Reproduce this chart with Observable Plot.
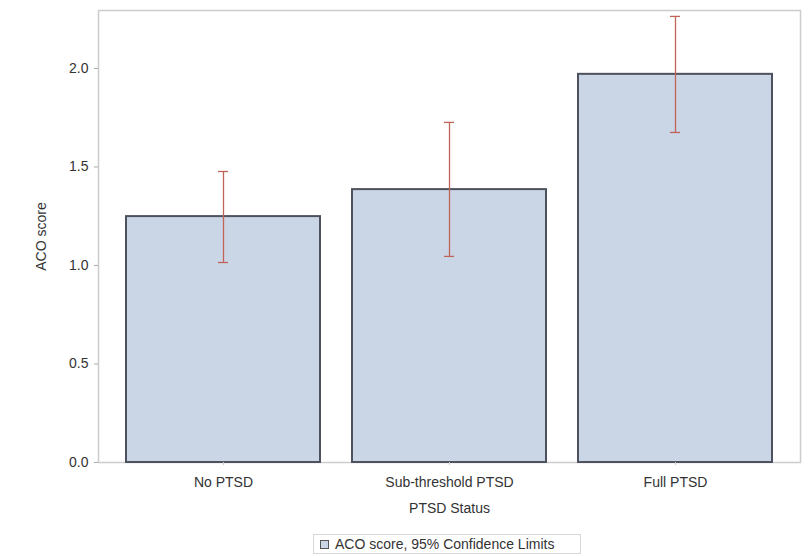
<!DOCTYPE html>
<html>
<head>
<meta charset="utf-8">
<script src="https://cdn.jsdelivr.net/npm/d3@7"></script>
<script src="https://cdn.jsdelivr.net/npm/@observablehq/plot@0.6"></script>
<style>
  html, body { margin: 0; padding: 0; background: #fff; }
  body { width: 811px; height: 556px; overflow: hidden; font-family: "Liberation Sans", Arial, sans-serif; }
  #legend { position: relative; height: 26px; }
  #legend .box { position: absolute; left: 313px; top: 4px; width: 268px; height: 20px; border: 1px solid #d8d8d8; box-sizing: border-box; display: flex; align-items: center; font-size: 14px; color: #333; white-space: nowrap; }
  #legend .sw { width: 9px; height: 9px; border: 1.5px solid #555; background: #cad5e5; margin: 0 6px 0 6px; box-sizing: border-box; }
</style>
</head>
<body>
<div id="chart"></div>
<div id="legend"><div class="box"><span class="sw"></span><span>ACO score, 95% Confidence Limits</span></div></div>
<script>
const categories = ["No PTSD", "Sub-threshold PTSD", "Full PTSD"];
const means = [1.248, 1.385, 1.970];
const lowerCL = [1.015, 1.046, 1.675];
const upperCL = [1.477, 1.726, 2.264];
const yTicks = [0, 0.5, 1.0, 1.5, 2.0];

const data = categories.map((c, i) => ({cat: c, mean: means[i], lo: lowerCL[i], hi: upperCL[i]}));

const chart = Plot.plot({
  width: 811,
  height: 530,
  marginLeft: 98,
  marginRight: 11,
  marginTop: 10,
  marginBottom: 68,
  style: {fontFamily: "Liberation Sans, Arial, sans-serif", fontSize: "14px", color: "#333", background: "#fff"},
  x: {domain: categories, paddingInner: 0.143, paddingOuter: 0.119, label: null},
  y: {domain: [0, 2.294], label: null},
  marks: [
    Plot.frame({stroke: "#cccccc", strokeWidth: 1.5}),
    Plot.barY(data, {x: "cat", y: "mean", fill: "#cad5e5", stroke: "#4d525e", strokeWidth: 2}),
    Plot.ruleX(data, {x: "cat", y1: "lo", y2: "hi", stroke: "#c0645a", strokeWidth: 1.3}),
    Plot.tickY(data, {x: "cat", y: "lo", stroke: "#c0645a", strokeWidth: 1.3, insetLeft: 92, insetRight: 92}),
    Plot.tickY(data, {x: "cat", y: "hi", stroke: "#c0645a", strokeWidth: 1.3, insetLeft: 92, insetRight: 92}),
    Plot.axisY({ticks: yTicks, tickFormat: d3.format(".1f"), tickSize: 4, tickPadding: 6, stroke: "#aaa", fontSize: 14, label: "ACO score", labelAnchor: "center", labelOffset: 62, labelArrow: false}),
    Plot.axisX({tickSize: 3, tickPadding: 12, stroke: "#ccc", fontSize: 14, label: "PTSD Status", labelAnchor: "center", labelOffset: 50, labelArrow: false})
  ]
});
document.getElementById("chart").appendChild(chart);
</script>
</body>
</html>
